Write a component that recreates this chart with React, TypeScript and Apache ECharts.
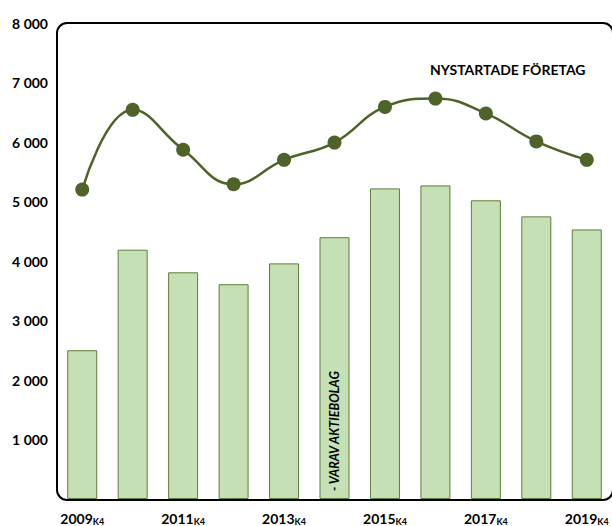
import React, { useEffect, useRef } from "react";
import * as echarts from "echarts";

const categories = ["2009", "2010", "2011", "2012", "2013", "2014", "2015", "2016", "2017", "2018", "2019"];
const quarterTag = "K4";
const aktiebolag = [2500, 4190, 3810, 3610, 3960, 4400, 5220, 5270, 5020, 4750, 4530];
const nystartade = [5200, 6540, 5870, 5290, 5700, 5990, 6590, 6730, 6480, 6010, 5700];
const yMin = 0;
const yMax = 8000;
const yInterval = 1000;
const lineTitle = "NYSTARTADE FÖRETAG";
const barTitle = "- VARAV AKTIEBOLAG";
const barTitleIndex = 5;

const FONT = "Lato, 'Noto Sans', sans-serif";

export default function App() {
  const ref = useRef<HTMLDivElement>(null);
  useEffect(() => {
    if (!ref.current) return;
    const chart = echarts.init(ref.current, null, { renderer: "svg" });
    const gridLeft = 57;
    const gridTop = 23;
    const gridBottom = 26;
    chart.setOption({
      animation: false,
      grid: { left: gridLeft, right: 0, top: gridTop, bottom: gridBottom, containLabel: false },
      xAxis: {
        type: "category",
        data: categories,
        axisLine: { show: false },
        axisTick: { show: false },
        axisLabel: {
          interval: 1,
          margin: 11,
          formatter: (v: string) => `{a|${v}}{b|${quarterTag}}`,
          rich: {
            a: { fontFamily: FONT, fontSize: 14, fontWeight: "bold", color: "#000" },
            b: { fontFamily: FONT, fontSize: 9, fontWeight: "bold", color: "#000", padding: [7, 0, 0, 0] },
          },
        },
      },
      yAxis: {
        type: "value",
        min: yMin,
        max: yMax,
        interval: yInterval,
        splitLine: { show: false },
        axisLine: { show: false },
        axisTick: { show: false },
        axisLabel: {
          showMinLabel: false,
          margin: 9,
          fontFamily: FONT,
          fontSize: 14,
          fontWeight: "bold",
          color: "#000",
          formatter: (v: number) => (v === 0 ? "" : String(v).replace(/\B(?=(\d{3})+(?!\d))/g, " ")),
        },
      },
      graphic: [
        {
          type: "rect",
          z: 0,
          shape: { x: gridLeft, y: gridTop, width: 556, height: 526 - gridTop - gridBottom, r: 10 },
          style: { fill: "none", stroke: "#000", lineWidth: 2 },
        },
        {
          type: "text",
          left: 430,
          top: 62,
          style: { text: lineTitle, fontFamily: FONT, fontSize: 14, fontWeight: "bold", fill: "#000" },
        },
      ],
      series: [
        {
          type: "bar",
          barWidth: 30,
          z: 2,
          data: aktiebolag.map((v, i) =>
            i === barTitleIndex
              ? {
                  value: v,
                  label: {
                    show: true,
                    formatter: barTitle,
                    position: "insideBottom",
                    rotate: 90,
                    align: "left",
                    verticalAlign: "middle",
                    distance: 8,
                    fontFamily: FONT,
                    fontSize: 12.5,
                    fontWeight: "bold",
                    fontStyle: "italic",
                    color: "#000",
                  },
                }
              : v
          ),
          itemStyle: { color: "#c5e0b4", borderColor: "#5e7d36", borderWidth: 1 },
        },
        {
          type: "line",
          z: 3,
          data: nystartade,
          smooth: 0.45,
          symbol: "circle",
          symbolSize: 14,
          lineStyle: { color: "#4f6228", width: 2.5 },
          itemStyle: { color: "#4f6228" },
        },
      ],
    });
    return () => chart.dispose();
  }, []);
  return <div ref={ref} style={{ position: "absolute", left: 0, top: 0, width: 612, height: 526 }} />;
}
